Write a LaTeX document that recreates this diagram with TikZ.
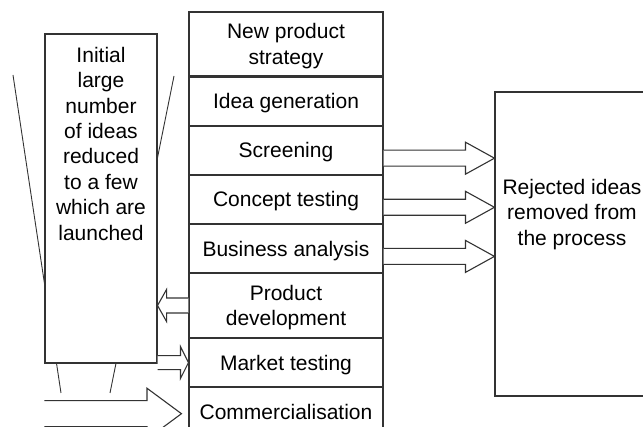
\documentclass[tikz,border=0pt]{standalone}
\usepackage{fontspec}
\setmainfont{Liberation Sans}
\usetikzlibrary{positioning,calc}

\tikzset{
  stage/.style={draw=black!80, line width=1.1pt, fill=white, minimum width=194pt,
    minimum height=48pt, inner sep=0pt, align=center, text depth=0pt},
  tallstage/.style={stage, minimum height=64pt},
  plainbox/.style={draw=black!80, line width=1.1pt, fill=white, inner sep=0pt},
  boxtext/.style={align=center, inner sep=0pt, text depth=0pt},
  fatarrow/.style={draw=black!80, line width=1.1pt, fill=white, line join=miter},
  funnelline/.style={draw=black!80, line width=0.9pt}
}

% hollow block arrow: tail, tip, half shaft, half head, head length
\newcommand{\fatarrow}[5]{%
  \draw[fatarrow] let \p1=(#1), \p2=(#2), \n1={sign(\x2-\x1)*#5} in
    (\x1,\y1+#3) -- (\x2-\n1*1pt,\y1+#3) -- (\x2-\n1*1pt,\y1+#4) -- (\x2,\y1)
    -- (\x2-\n1*1pt,\y1-#4) -- (\x2-\n1*1pt,\y1-#3) -- (\x1,\y1-#3);}

\begin{document}
\begin{tikzpicture}[x=1pt, y=-1pt, font=\fontsize{21}{25.4}\selectfont]
  \useasboundingbox (0,0) rectangle (643,427);
  \clip (0,0) rectangle (643,427);

  % funnel edges, partly behind the box
  \draw[funnelline] (13,75) -- (61,393);
  \draw[funnelline] (174,76) -- (110,393);

  \node[plainbox, minimum width=112pt, minimum height=329pt] (funnel) at (101,198.5) {};
  \node[boxtext] (funneltext) at (101,143.5)
    {Initial\\large\\number\\of ideas\\reduced\\to a few\\which are\\launched};

  % stages
  \node[tallstage] (strategy) at (286,44) {New product\\strategy};
  \node[stage, below=0pt of strategy] (ideas) {Idea generation};
  \node[stage, below=0pt of ideas] (screening) {Screening};
  \node[stage, below=0pt of screening] (concept) {Concept testing};
  \node[stage, below=0pt of concept] (business) {Business analysis};
  \node[tallstage, below=0pt of business] (develop) {Product\\development};
  \node[stage, below=0pt of develop] (market) {Market testing};
  \node[stage, below=0pt of market] (commercial) {Commercialisation};

  \node[plainbox, minimum width=155pt, minimum height=304pt] (rejected) at (572.5,244) {};
  \node[boxtext] (rejectedtext) at (572,212.3) {Rejected ideas\\removed from\\the process};

  % arrows
  \foreach \s in {screening,concept,business}
    {\fatarrow{[yshift=-8pt]\s.east}{rejected.west}{8pt}{16pt}{29pt}}
  \fatarrow{develop.west}{funnel.east}{7.5pt}{16pt}{9pt}
  \fatarrow{funnel.east |- market.west}{market.west}{7pt}{16pt}{8pt}
  \coordinate (launch) at ([shift={(-7pt,-2pt)}]commercial.west);
  \fatarrow{funnel.west |- launch}{launch}{13pt}{25.5pt}{34.5pt}
\end{tikzpicture}
\end{document}
